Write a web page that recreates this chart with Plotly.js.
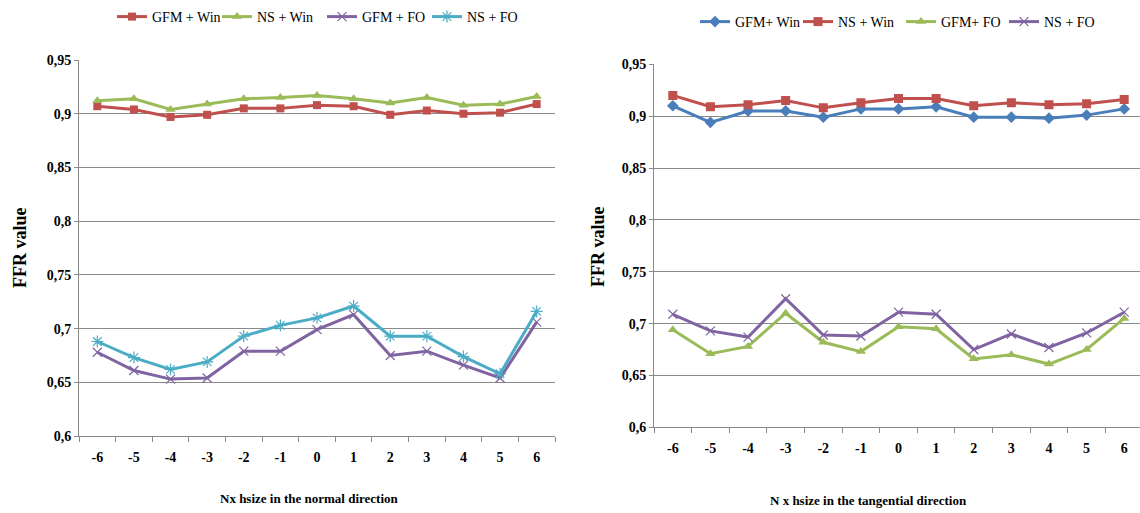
<!DOCTYPE html>
<html><head><meta charset="utf-8">
<script src="https://cdn.plot.ly/plotly-3.0.1.min.js"></script>
<style>html,body{margin:0;padding:0;background:#fff}#c{width:1140px;height:513px}</style>
</head><body><div id="c"></div>
<script>
const categories = ["-6","-5","-4","-3","-2","-1","0","1","2","3","4","5","6"];
const yTickVals = [0.6,0.65,0.7,0.75,0.8,0.85,0.9,0.95];
const yTickText = ["0,6","0,65","0,7","0,75","0,8","0,85","0,9","0,95"];

// Left chart: normal direction
const normalGfmWin = [0.907,0.904,0.897,0.899,0.905,0.905,0.908,0.907,0.899,0.903,0.900,0.901,0.909];
const normalNsWin  = [0.912,0.914,0.904,0.909,0.914,0.915,0.917,0.914,0.910,0.915,0.908,0.909,0.916];
const normalGfmFo  = [0.678,0.661,0.653,0.654,0.679,0.679,0.699,0.713,0.675,0.679,0.666,0.654,0.706];
const normalNsFo   = [0.688,0.673,0.662,0.669,0.693,0.703,0.710,0.721,0.693,0.693,0.674,0.658,0.716];

// Right chart: tangential direction
const tangGfmWin = [0.910,0.894,0.905,0.905,0.899,0.907,0.907,0.909,0.899,0.899,0.898,0.901,0.907];
const tangNsWin  = [0.920,0.909,0.911,0.915,0.908,0.913,0.917,0.917,0.910,0.913,0.911,0.912,0.916];
const tangGfmFo  = [0.694,0.671,0.678,0.710,0.682,0.673,0.697,0.695,0.666,0.670,0.661,0.675,0.705];
const tangNsFo   = [0.709,0.693,0.687,0.724,0.689,0.688,0.711,0.709,0.675,0.690,0.677,0.691,0.711];

const BLUE="#4A7EBB", RED="#C0504D", GREEN="#9BBB59", PURPLE="#8064A2", CYAN="#4BACC6";

function tr(y, name, color, symbol, size, xa, ya, leg, openSym){
  return {x: categories, y: y, name: name, type:'scatter', mode:'lines+markers',
    xaxis: xa, yaxis: ya, legend: leg,
    line:{color:color, width:3},
    marker: openSym ? {symbol:symbol, size:size, color:color, line:{color:color, width:1.2}}
                    : {symbol:symbol, size:size, color:color}};
}

const data = [
  tr(normalGfmWin,"GFM + Win",RED,"square",8,'x','y','legend'),
  tr(normalNsWin,"NS + Win",GREEN,"triangle-up",9,'x','y','legend'),
  tr(normalGfmFo,"GFM + FO",PURPLE,"x-thin-open",9,'x','y','legend',true),
  tr(normalNsFo,"NS + FO",CYAN,"asterisk-open",10,'x','y','legend',true),
  tr(tangGfmWin,"GFM+ Win",BLUE,"diamond",9,'x2','y2','legend2'),
  tr(tangNsWin,"NS + Win",RED,"square",9,'x2','y2','legend2'),
  tr(tangGfmFo,"GFM+ FO",GREEN,"triangle-up",9,'x2','y2','legend2'),
  tr(tangNsFo,"NS + FO",PURPLE,"x-thin-open",9,'x2','y2','legend2',true)
];

const tickFont = {family:"Liberation Serif", size:14, color:"#000", weight:"bold"};
const GRID="#8a8a8a";
function xax(domain, range){
  return {type:'category', domain:domain, range:range, showgrid:false, showline:true, linecolor:GRID, linewidth:1,
    ticks:'outside', tickson:'boundaries', ticklen:5, tickcolor:GRID, tickfont:tickFont, ticklabelstandoff:8,
    fixedrange:true};
}
function yax(domain, anchor){
  return {domain:domain, anchor:anchor, range:[0.6,0.95], tickvals:yTickVals, ticktext:yTickText,
    showgrid:true, gridcolor:GRID, gridwidth:1, showline:true, linecolor:GRID, linewidth:1,
    ticks:'outside', ticklen:4, tickcolor:GRID, tickfont:tickFont, zeroline:false, fixedrange:true};
}

const legFont = {family:"Liberation Serif", size:14, color:"#000"};
const titleFont = {family:"Liberation Serif", size:18, color:"#000", weight:"bold"};
const xTitleFont = {family:"Liberation Serif", size:13, color:"#000", weight:"bold"};
const layout = {
  width:1140, height:513, margin:{l:0,r:0,t:0,b:0},
  paper_bgcolor:'#fff', plot_bgcolor:'#fff',
  xaxis: Object.assign(xax([79/1140,555/1140],[-0.5,12.5]),{anchor:'y'}),
  yaxis: yax([0.150,0.883],'x'),
  xaxis2: Object.assign(xax([654/1140,1],[-0.5,12.42]),{anchor:'y2'}),
  yaxis2: yax([0.167,0.8747],'x2'),
  legend: {orientation:'h', x:112/1140, xanchor:'left', y:1-17/513, yanchor:'middle', font:legFont,
    entrywidth:60, entrywidthmode:'pixels', bgcolor:'rgba(0,0,0,0)', itemwidth:30},
  legend2: {orientation:'h', x:695/1140, xanchor:'left', y:1-22/513, yanchor:'middle', font:legFont,
    entrywidth:58, entrywidthmode:'pixels', bgcolor:'rgba(0,0,0,0)', itemwidth:30},
  showlegend:true,
  annotations:[
    {text:"FFR value", xref:'paper', yref:'paper', x:20/1140, y:1-248/513, xanchor:'center', yanchor:'middle',
     textangle:-90, showarrow:false, font:titleFont},
    {text:"FFR value", xref:'paper', yref:'paper', x:598/1140, y:1-247/513, xanchor:'center', yanchor:'middle',
     textangle:-90, showarrow:false, font:titleFont},
    {text:"Nx hsize in the normal direction", xref:'paper', yref:'paper', x:309/1140, y:1-498/513,
     xanchor:'center', yanchor:'middle', showarrow:false, font:xTitleFont},
    {text:"N x hsize in the tangential direction", xref:'paper', yref:'paper', x:868/1140, y:1-500/513,
     xanchor:'center', yanchor:'middle', showarrow:false, font:xTitleFont}
  ]
};
Plotly.newPlot('c', data, layout, {displayModeBar:false, staticPlot:true});
</script></body></html>
